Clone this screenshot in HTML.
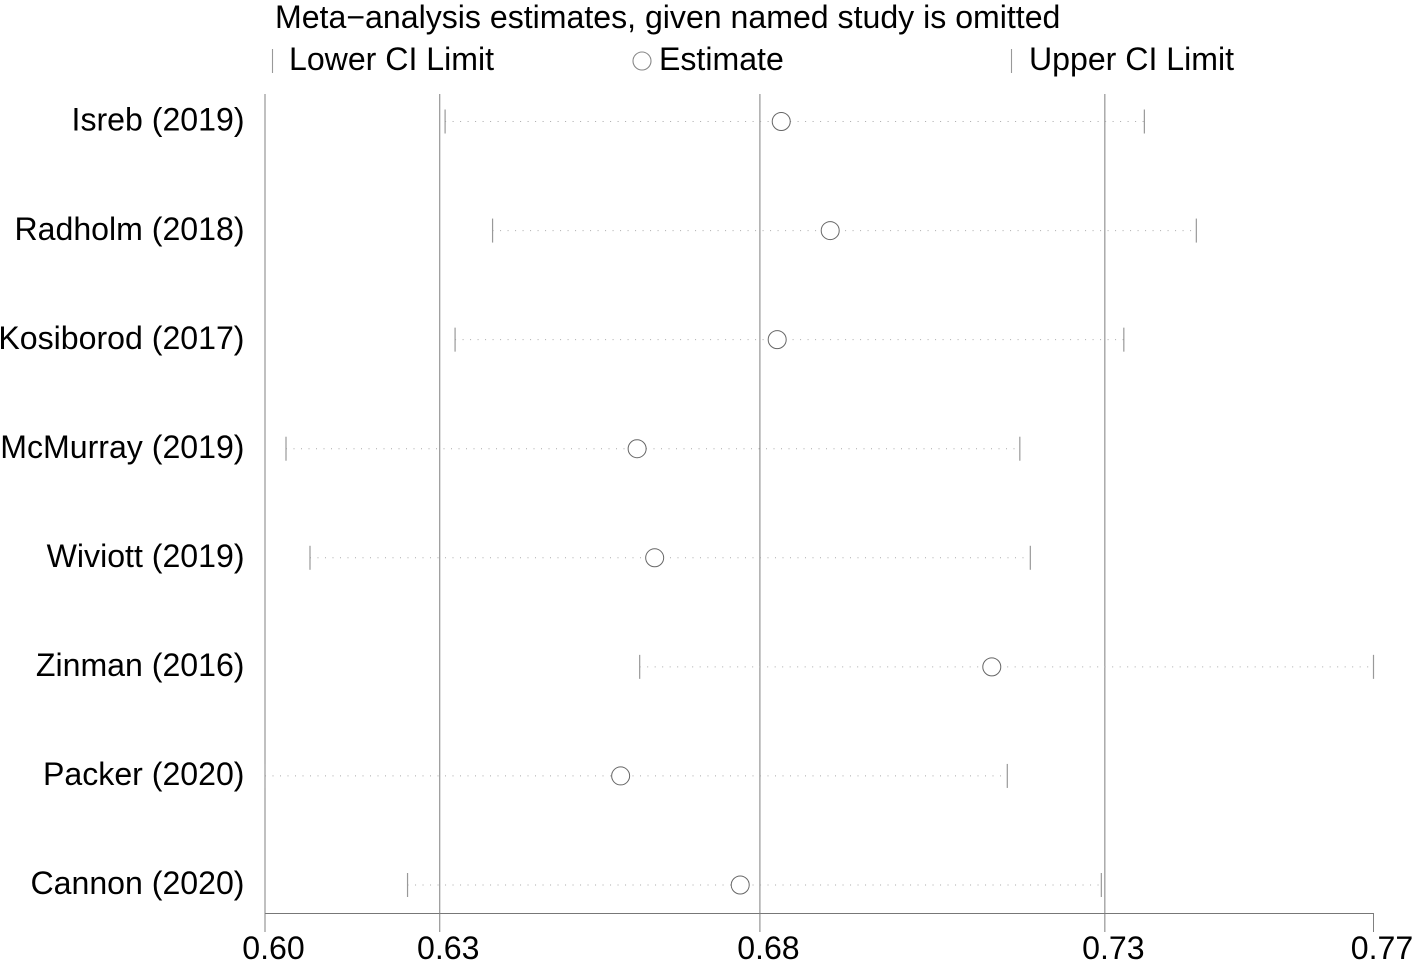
<!DOCTYPE html>
<html>
<head>
<meta charset="utf-8">
<style>
html,body{margin:0;padding:0;background:#fff;width:1417px;height:962px;overflow:hidden}
svg{display:block}
text{font-family:"Liberation Sans",sans-serif;font-size:32.1px;fill:#000}
</style>
</head>
<body>
<svg id="chart" width="1417" height="962" viewBox="0 0 1417 962" xmlns="http://www.w3.org/2000/svg"></svg>
<script>
const studies = ["Isreb (2019)","Radholm (2018)","Kosiborod (2017)","McMurray (2019)","Wiviott (2019)","Zinman (2016)","Packer (2020)","Cannon (2020)"];
const lowerCI = [0.62762,0.6349,0.62915,0.60322,0.6069,0.65746,0.6,0.62186];
const estimates = [0.67917,0.68668,0.67855,0.65707,0.65976,0.71146,0.65454,0.67288];
const upperCI = [0.73486,0.74283,0.73171,0.71576,0.71737,0.77,0.71384,0.72826];
const tickValues = [0.6,0.6268,0.6759,0.7288,0.77];
const tickLabels = ["0.60","0.63","0.68","0.73","0.77"];

const svg = document.getElementById('chart');
const NS = 'http://www.w3.org/2000/svg';
const xScale = v => 265 + (v - 0.6) * (1373.5 - 265) / (0.77 - 0.6);
const yScale = i => 121.5 + i * (885 - 121.5) / (studies.length - 1);

function add(tag, attrs, parent, text) {
  const el = document.createElementNS(NS, tag);
  for (const k in attrs) el.setAttribute(k, attrs[k]);
  if (text !== undefined) el.textContent = text;
  (parent || svg).appendChild(el);
  return el;
}

const legend = add('g', {});



const title = add('text', {x: 275, y: 28}, legend, 'Meta\u2212analysis estimates, given named study is omitted');



const legLowerMark = add('line', {x1: 272.5, x2: 272.5, y1: 49, y2: 73, stroke: '#999', 'stroke-width': 1.1}, legend);



const legLower = add('text', {x: 289, y: 70}, legend, 'Lower CI Limit');



const legEstMark = add('circle', {cx: 642, cy: 61, r: 9, fill: 'none', stroke: '#888', 'stroke-width': 1.1}, legend);



const legEst = add('text', {x: 659, y: 70}, legend, 'Estimate');



const legUpperMark = add('line', {x1: 1011.5, x2: 1011.5, y1: 49, y2: 73, stroke: '#999', 'stroke-width': 1.1}, legend);



const legUpper = add('text', {x: 1029, y: 70}, legend, 'Upper CI Limit');



const axis = add('g', {});



const axisLine = add('line', {x1: 265, x2: 1374, y1: 913.5, y2: 913.5, stroke: '#777', 'stroke-width': 1}, axis);



tickValues.forEach((v, i) => {
  const x = xScale(v);
  const isLast = i === tickValues.length - 1;
  const rule = add('line', {x1: x, x2: x, y1: isLast ? 913.5 : 94, y2: 932, stroke: '#808080', 'stroke-width': 1}, axis);
  
  
  const label = add('text', {x: x + 8.5, y: 959, 'text-anchor': 'middle'}, axis, tickLabels[i]);
  
  
});

studies.forEach((name, i) => {
  const y = yScale(i);
  const g = add('g', {}, svg);
  
  

  const label = add('text', {x: 244.5, y: y + 9.2, 'text-anchor': 'end'}, g, name);
  
  

  const ci = add('line', {x1: xScale(lowerCI[i]), x2: xScale(upperCI[i]), y1: y, y2: y, stroke: '#aaa', 'stroke-width': 1, 'stroke-dasharray': '1 6.5'}, g);
  
  

  const lo = add('line', {x1: xScale(lowerCI[i]), x2: xScale(lowerCI[i]), y1: y - 12, y2: y + 12, stroke: '#999', 'stroke-width': 1.2}, g);
  
  

  const hi = add('line', {x1: xScale(upperCI[i]), x2: xScale(upperCI[i]), y1: y - 12, y2: y + 12, stroke: '#999', 'stroke-width': 1.2}, g);
  
  

  const est = add('circle', {cx: xScale(estimates[i]), cy: y, r: 9, fill: '#fff', stroke: '#666', 'stroke-width': 1}, g);
  
  
});
</script>
</body>
</html>
